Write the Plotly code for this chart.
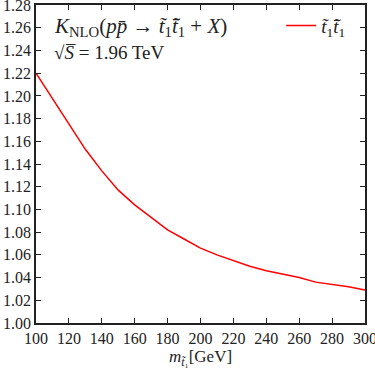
import plotly.graph_objects as go

mass = [100, 110, 120, 130, 140, 150, 160, 170, 180, 190, 200,
        210, 220, 230, 240, 250, 260, 270, 280, 290, 300]
k_nlo = [1.220, 1.198, 1.175, 1.153, 1.134, 1.117, 1.104, 1.093, 1.082, 1.074, 1.066,
         1.060, 1.055, 1.050, 1.046, 1.043, 1.040, 1.036, 1.034, 1.032, 1.029]

font = "Liberation Serif"

fig = go.Figure()
fig.add_trace(go.Scatter(
    x=mass, y=k_nlo, mode="lines",
    line=dict(color="#ff0000", width=1.5),
    name="<i>t̃</i><sub>1</sub><i>t̃̄</i><sub>1</sub>",
))

axis = dict(
    showline=True, linecolor="#222", linewidth=1.5, mirror="ticks",
    ticks="inside", ticklen=5, tickcolor="#222", tickwidth=1,
    showgrid=False, zeroline=False, automargin=False,
    ticklabeloverflow="allow",
    tickfont=dict(family=font, size=16, color="#222"),
)

fig.update_xaxes(range=[100, 300.01], tick0=100, dtick=20, **axis,
                 title=dict(text="<i>m</i><sub><i>t̃</i>₁</sub>[GeV]",
                            font=dict(family=font, size=17, color="#222"),
                            standoff=4))
fig.update_yaxes(range=[1.0, 1.2801], tick0=1.0, dtick=0.02, tickformat=".2f", **axis)

fig.add_annotation(
    x=0.049, y=0.931, xref="paper", yref="paper", xanchor="left", yanchor="middle",
    text="<i>K</i><sub>NLO</sub>(<i>p</i><i>p̄</i> → <i>t̃</i><sub>1</sub><i>t̃̄</i><sub>1</sub> + <i>X</i>)",
    showarrow=False, font=dict(family=font, size=21, color="#222"),
)
fig.add_annotation(
    x=0.049, y=0.852, xref="paper", yref="paper", xanchor="left", yanchor="middle",
    text="√<i>S̅</i> = 1.96 TeV",
    showarrow=False, font=dict(family=font, size=19, color="#222"),
)

fig.update_layout(
    width=375, height=372,
    margin=dict(l=36, r=10, t=5, b=49),
    plot_bgcolor="white", paper_bgcolor="white",
    showlegend=True,
    legend=dict(x=0.955, y=0.995, xanchor="right", yanchor="top",
                bgcolor="rgba(0,0,0,0)", font=dict(family=font, size=19, color="#222")),
)

fig.write_html("out.html", config={"displayModeBar": False},
               post_script="document.body.style.margin='0';")
